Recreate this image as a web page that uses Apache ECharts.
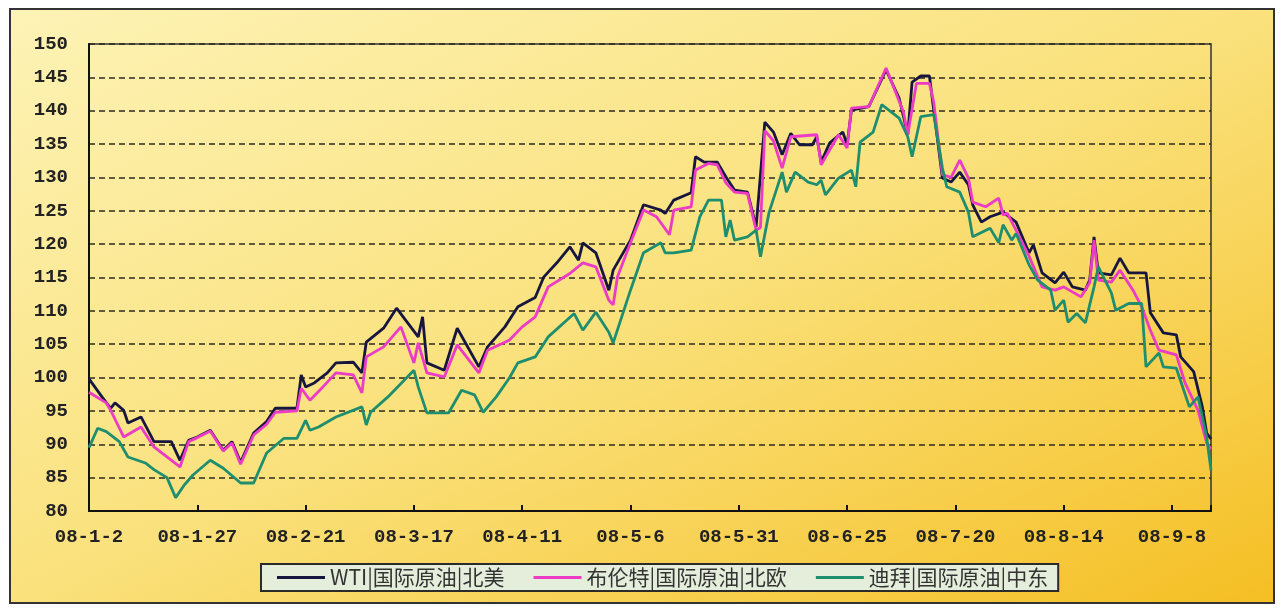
<!DOCTYPE html>
<html>
<head>
<meta charset="utf-8">
<script src="https://cdn.jsdelivr.net/npm/echarts@6/dist/echarts.min.js"></script>
<style>
  html, body { margin: 0; padding: 0; background: #fff; }
  #frame {
    position: absolute; left: 9px; top: 8px; width: 1262px; height: 592px;
    border: 2px solid #333;
    background: linear-gradient(to bottom right, #fdf3b6 0%, #fae17c 50%, #f5bf24 100%);
  }
  #chart { position: absolute; left: 0; top: 0; width: 1282px; height: 608px; }
</style>
</head>
<body>
<div id="frame"></div>
<div id="chart"></div>
<script>
// x ticks every 25 calendar days starting 2008-01-02
const xLabels = ['08-1-2', '08-1-27', '08-2-21', '08-3-17', '08-4-11', '08-5-6',
  '08-5-31', '08-6-25', '08-7-20', '08-8-14', '08-9-8']

const seriesNames = ['WTI|国际原油|北美', '布伦特|国际原油|北欧', '迪拜|国际原油|中东']

// day offset from 08-1-2, price in USD/bbl
const wtiDays = [0, 3, 5, 6, 8, 9, 12, 15, 19, 21, 23, 25, 28, 31, 33, 35, 38, 41, 43, 48,
  49, 50, 52, 55, 57, 61, 63, 64, 68, 71, 76, 77, 78, 82, 85, 90, 92, 96, 99, 103,
  105, 108, 111, 113, 114, 117, 120, 121, 125, 128, 132, 133, 135, 139, 140, 142, 145, 147, 149, 152,
  154, 156, 158, 160, 162, 164, 167, 168, 169, 171, 174, 175, 176, 180, 184, 187, 189, 190, 192, 194,
  195, 197, 199, 201, 203, 204, 206, 208, 211, 214, 217, 218, 220, 223, 225, 227, 230, 231, 232, 233,
  236, 238, 240, 244, 245, 248, 251, 252, 255, 257, 258, 259]
const wtiPrices = [99.8, 97.1, 95.4, 96.2, 95.1, 93.2, 94.1, 90.4, 90.4, 87.6, 90.6, 91.1, 92.1, 89.1, 90.4, 87.3, 91.7, 93.4, 95.4, 95.4,
  100.4, 98.6, 99.2, 100.7, 102.2, 102.3, 100.7, 105.3, 107.4, 110.4, 106.1, 109.1, 102.2, 101.1, 107.4, 101.6, 104.6, 107.6, 110.6, 112.0,
  115.1, 117.2, 119.6, 117.6, 120.2, 118.7, 113.1, 116.1, 120.6, 125.9, 125.1, 124.6, 126.6, 127.7, 133.1, 132.3, 132.3, 130.1, 128.1, 127.8,
  122.6, 138.3, 136.8, 133.4, 136.6, 134.9, 134.9, 136.1, 132.3, 135.2, 136.8, 134.9, 140.1, 140.6, 146.1, 141.9, 136.4, 144.3, 145.2, 145.2,
  140.1, 129.9, 129.3, 130.8, 128.9, 125.9, 123.3, 124.1, 124.8, 123.3, 118.7, 119.9, 115.7, 114.2, 115.8, 113.6, 113.1, 114.6, 121.1, 115.7,
  115.4, 117.9, 115.7, 115.7, 109.7, 106.7, 106.4, 103.1, 100.9, 95.6, 91.7, 90.8]

const brentDays = [0, 4, 5, 8, 12, 15, 18, 21, 23, 25, 28, 31, 33, 35, 38, 41, 43, 48, 49, 51,
  54, 57, 61, 63, 64, 68, 72, 75, 76, 78, 82, 85, 90, 92, 97, 100, 103, 106, 111, 114,
  117, 120, 121, 122, 125, 128, 131, 134, 135, 139, 140, 143, 145, 147, 149, 152, 154, 155, 156, 158,
  160, 162, 168, 169, 173, 175, 176, 180, 184, 188, 189, 191, 194, 195, 197, 199, 201, 203, 204, 207,
  210, 211, 212, 214, 217, 220, 223, 225, 229, 231, 232, 233, 236, 238, 241, 243, 245, 247, 251, 253,
  256, 258, 259]
const brentPrices = [97.8, 96.2, 95.1, 91.1, 92.6, 89.6, 88.1, 86.6, 90.4, 91.0, 92.0, 89.0, 90.2, 87.0, 91.4, 93.0, 94.8, 95.0, 98.4, 96.6,
  98.6, 100.7, 100.4, 97.7, 103.1, 104.6, 107.6, 102.2, 105.2, 100.7, 100.1, 104.9, 100.7, 104.1, 105.6, 107.6, 109.1, 113.6, 115.6, 117.2,
  116.6, 111.6, 110.9, 115.1, 120.2, 125.1, 124.1, 121.4, 125.1, 125.6, 131.1, 132.1, 131.9, 129.2, 127.8, 127.6, 122.1, 122.5, 137.0, 135.5,
  131.4, 136.1, 136.4, 131.9, 136.4, 134.4, 140.4, 140.6, 146.4, 139.8, 136.4, 144.1, 144.1, 141.3, 130.4, 130.0, 132.6, 129.9, 126.3, 125.6,
  126.9, 124.4, 124.6, 122.1, 118.2, 113.6, 113.1, 113.6, 112.1, 114.2, 120.6, 114.6, 114.3, 116.1, 113.1, 110.6, 107.1, 104.1, 103.4, 99.2,
  95.1, 90.2, 89.3]

const dubaiDays = [0, 2, 4, 7, 9, 13, 15, 18, 20, 22, 24, 28, 31, 35, 38, 41, 45, 48, 50, 51,
  53, 57, 63, 64, 65, 69, 75, 76, 78, 83, 86, 89, 91, 94, 97, 99, 103, 106, 112, 114,
  117, 120, 121, 125, 128, 132, 133, 135, 139, 141, 143, 146, 147, 148, 149, 152, 154, 155, 157, 160,
  161, 163, 166, 168, 169, 170, 173, 176, 177, 178, 181, 183, 187, 189, 190, 192, 195, 197, 198, 201,
  203, 204, 208, 210, 211, 213, 214, 217, 219, 222, 223, 225, 226, 228, 230, 232, 233, 236, 237, 240,
  243, 244, 247, 248, 251, 254, 256, 258, 259]
const dubaiPrices = [89.5, 92.4, 91.9, 90.4, 88.1, 87.2, 86.2, 85.0, 82.0, 83.9, 85.4, 87.6, 86.4, 84.2, 84.2, 88.7, 90.9, 90.9, 93.6, 92.1,
  92.6, 94.1, 95.6, 92.9, 94.8, 97.1, 101.1, 98.6, 94.7, 94.7, 98.1, 97.4, 94.8, 97.1, 99.9, 102.2, 103.1, 106.1, 109.6, 107.1,
  109.8, 106.8, 105.2, 113.1, 118.7, 120.2, 118.7, 118.7, 119.1, 124.1, 126.6, 126.6, 121.1, 123.6, 120.6, 121.1, 122.1, 118.1, 124.8, 130.8,
  127.8, 130.8, 129.3, 128.9, 129.6, 127.4, 129.9, 131.1, 128.6, 135.3, 136.8, 140.9, 138.9, 136.1, 133.1, 139.1, 139.4, 131.4, 128.6, 127.8,
  124.8, 121.1, 122.4, 120.2, 122.9, 120.6, 121.6, 116.9, 114.6, 113.1, 110.1, 111.6, 108.3, 109.6, 108.2, 113.6, 116.6, 112.7, 110.1, 111.1,
  111.1, 101.6, 103.7, 101.6, 101.4, 95.6, 97.1, 91.1, 86.1]

const colors = ['#16163e', '#ec3bc6', '#1f8e6e']

const pairs = (days, prices) => days.map((d, i) => [d, prices[i]])

const labelFont = { fontFamily: 'Liberation Mono', fontSize: 19, fontWeight: 'bold', color: '#222' }

const chart = echarts.init(document.getElementById('chart'))
chart.setOption({
  animation: false,
  color: colors,
  grid: {
    left: 89,
    right: 71,
    top: 44,
    bottom: 97,
    show: true,
    borderColor: '#333',
    borderWidth: 1.5,
  },
  legend: {
    left: 261,
    top: 564,
    data: seriesNames,
    icon: 'rect',
    itemWidth: 48,
    itemHeight: 3,
    itemGap: 29,
    padding: [2, 10, 2, 16],
    backgroundColor: '#e5eddb',
    borderColor: '#2b2b2b',
    borderWidth: 2,
    borderRadius: 0,
    textStyle: { fontFamily: 'Noto Sans CJK SC', fontSize: 21, color: '#333', lineHeight: 23 },
  },
  xAxis: {
    type: 'value',
    min: 0,
    max: 259,
    interval: 25,
    axisLine: { lineStyle: { color: '#111', width: 2 } },
    axisTick: { show: true, inside: true, length: 6, lineStyle: { color: '#111', width: 2 } },
    splitLine: { show: false },
    axisLabel: {
      ...labelFont,
      margin: 17,
      formatter: (v) => (v % 25 === 0 ? xLabels[v / 25] || '' : ''),
    },
  },
  yAxis: {
    type: 'value',
    min: 80,
    max: 150,
    interval: 5,
    axisLine: { show: true, lineStyle: { color: '#111', width: 2 } },
    axisTick: { show: false },
    axisLabel: { ...labelFont, margin: 21 },
    splitLine: { lineStyle: { color: '#2e2a1e', width: 1.6, type: [6, 4] } },
  },
  series: [
    { name: seriesNames[0], type: 'line', data: pairs(wtiDays, wtiPrices) },
    { name: seriesNames[1], type: 'line', data: pairs(brentDays, brentPrices) },
    { name: seriesNames[2], type: 'line', data: pairs(dubaiDays, dubaiPrices) },
  ].map((s) => ({ ...s, symbol: 'none', lineStyle: { width: 2.8 } })),
})
</script>
</body>
</html>
